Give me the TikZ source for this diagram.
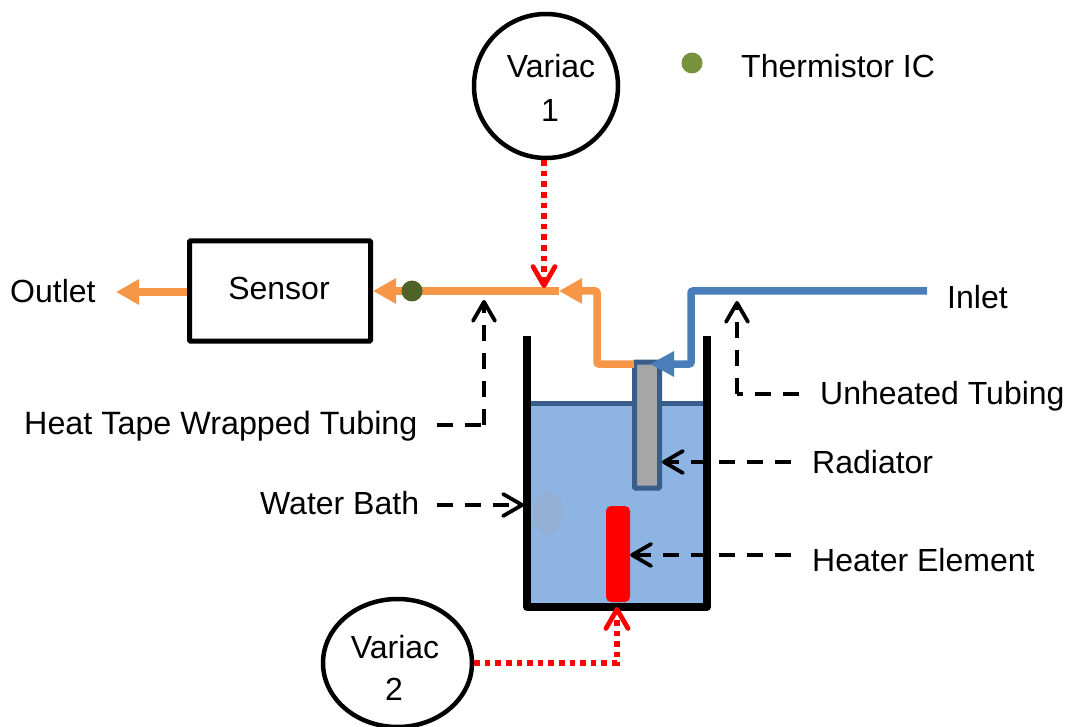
\documentclass[tikz,border=0pt]{standalone}
\usepackage{fontspec}
\setmainfont{Liberation Sans}
\usetikzlibrary{arrows.meta,calc,shapes.geometric}
\definecolor{hotpipe}{HTML}{F79646}
\definecolor{coldpipe}{HTML}{4A7EBB}
\definecolor{steelrim}{HTML}{385D8A}
\definecolor{waterblue}{HTML}{8EB4E3}
\definecolor{blobblue}{HTML}{93AFD4}
\definecolor{radgrey}{HTML}{A6A6A6}
\definecolor{darkdot}{HTML}{4F6228}
\definecolor{keydot}{HTML}{76923C}
\tikzset{
  lbl/.style={font=\fontsize{32}{38}\selectfont, inner sep=0pt, text=black},
  variac/.style={circle, draw=black, line width=4.5pt, fill=white, inner sep=0pt, minimum size=144pt},
  variacwide/.style={ellipse, draw=black, line width=4.5pt, fill=white, inner sep=0pt, minimum width=149pt, minimum height=128pt},
  sensorbox/.style={rectangle, rounded corners=1pt, draw=black, line width=5pt, fill=white, inner sep=0pt, minimum width=181pt, minimum height=100pt},
  hotline/.style={draw=hotpipe, line width=7.5pt, rounded corners=2pt, -{Triangle[length=23pt,width=24pt]}},
  coldline/.style={draw=coldpipe, line width=7.5pt, rounded corners=2pt, -{Triangle[length=24pt,width=24pt]}},
  dashrun/.style={draw=black, line width=3.6pt, dash pattern=on 16pt off 12pt},
  pointer/.style={dashrun, -{Straight Barb[length=19pt,width=22pt,line width=3.8pt,round]}},
  feed/.style={draw=red, line width=5.5pt, dash pattern=on 5.5pt off 5.1pt, -{Straight Barb[length=19pt,width=22pt,line width=4.8pt,round]}},
  wall/.style={draw=black, line width=8pt},
  tdot/.style={circle, inner sep=0pt, minimum size=21pt},
}
\begin{document}
\begin{tikzpicture}[x=1pt,y=-1pt]
\useasboundingbox (0,0) rectangle (1068,727);
\fill[white] (0,0) rectangle (1068,727);
% tank
\node[rectangle, fill=waterblue, inner sep=0pt, minimum width=172pt, minimum height=200pt] (water) at (617,504) {};
\node[ellipse, fill=blobblue, inner sep=0pt, minimum width=30pt, minimum height=44pt] (blob) at (548,513) {};
\draw[draw=steelrim, line width=5pt] (water.north west) -- (water.north east);
\coordinate (wallTL) at (527,336);
\coordinate (wallBL) at (527,607);
\coordinate (wallBR) at (707,607);
\coordinate (wallTR) at (707,336);
\draw[wall, line join=round] (wallTL) -- (wallBL) -- (wallBR) -- (wallTR);
% radiator, heater
\node[rectangle, rounded corners=1pt, draw=steelrim, line width=5pt, fill=radgrey, inner sep=0pt, minimum width=25pt, minimum height=126pt] (radiator) at (647,425) {};
\node[rectangle, rounded corners=5pt, fill=red, inner sep=0pt, minimum width=24pt, minimum height=96pt] (heater) at (618,554) {};
% main boxes
\node[variac] (v1) at (546,86) {};
\node[lbl] at (551,66) {Variac};
\node[lbl] at (550,110) {1};
\node[variacwide] (v2) at (397.5,663) {};
\node[lbl] at (395,647) {Variac};
\node[lbl] at (394,689) {2};
\node[sensorbox] (sensor) at (280,291) {};
\node[lbl] at (279,288) {Sensor};
% pipe waypoints
\coordinate (outletTip) at (116,292);
\coordinate (tapeEnd) at (559,291);
\coordinate (radOut) at (634,364);
\coordinate (hotCorner) at (597,364);
\coordinate (hotTop) at (597,291);
\coordinate (inletEnd) at (927,291);
\coordinate (coldTop) at (691,291);
\coordinate (coldLow) at (691,364);
\coordinate (coldTip) at (650,364);
\draw[hotline] (sensor.west |- outletTip) -- (outletTip);
\draw[hotline] (tapeEnd) -- (sensor.east |- tapeEnd);
\draw[hotline] (radOut) -- (hotCorner) -- (hotTop) -- (tapeEnd);
\draw[coldline] (inletEnd) -- (coldTop) -- (coldLow) -- (coldTip);
\node[tdot, fill=darkdot] (icdot) at (412,291) {};
\node[tdot, fill=keydot] (keydot) at (692,63) {};
% labels
\node[lbl, anchor=west] (key) at (741,66) {Thermistor IC};
\node[lbl, anchor=west] (outlet) at (10,291) {Outlet};
\node[lbl, anchor=west] (inlet) at (947,297) {Inlet};
\node[lbl, anchor=west] (unheated) at (820,396) {Unheated Tubing};
\node[lbl, anchor=west] (radlabel) at (812,462) {Radiator};
\node[lbl, anchor=west] (heatlabel) at (812,560) {Heater Element};
\node[lbl, anchor=west] (bathlabel) at (260,503) {Water Bath};
\node[lbl, anchor=west, font=\fontsize{32.3}{38}\selectfont] (tapelabel) at (24,426) {Heat Tape Wrapped Tubing};
% dashed pointers
\coordinate (tapeFrom) at (437,425);
\coordinate (tapeCorner) at (484,425);
\coordinate (tapeTo) at (484,300);
\coordinate (unhFrom) at (799,394);
\coordinate (unhCorner) at (737,394);
\coordinate (unhTo) at (737,301);
\coordinate (radFrom) at (791,462);
\coordinate (heatFrom) at (791,555);
\coordinate (bathFrom) at (437,505);
\coordinate (bathTo) at (524,505);
\draw[dashrun] (tapeFrom) -- (tapeCorner);
\draw[pointer] (tapeCorner) -- (tapeTo);
\draw[dashrun] (unhFrom) -- (unhCorner);
\draw[pointer] (unhCorner) -- (unhTo);
\draw[pointer] (radFrom) -- (radiator.east |- radFrom);
\draw[pointer] (heatFrom) -- (heater.east |- heatFrom);
\draw[pointer] (bathFrom) -- (bathTo);
% red feeds
\coordinate (feedTo) at (544,288);
\draw[feed] (v1.south -| feedTo) -- (feedTo);
\coordinate (feed2Turn) at (617,607);
\draw[feed] (v2.east) -| (feed2Turn);
\end{tikzpicture}
\end{document}
